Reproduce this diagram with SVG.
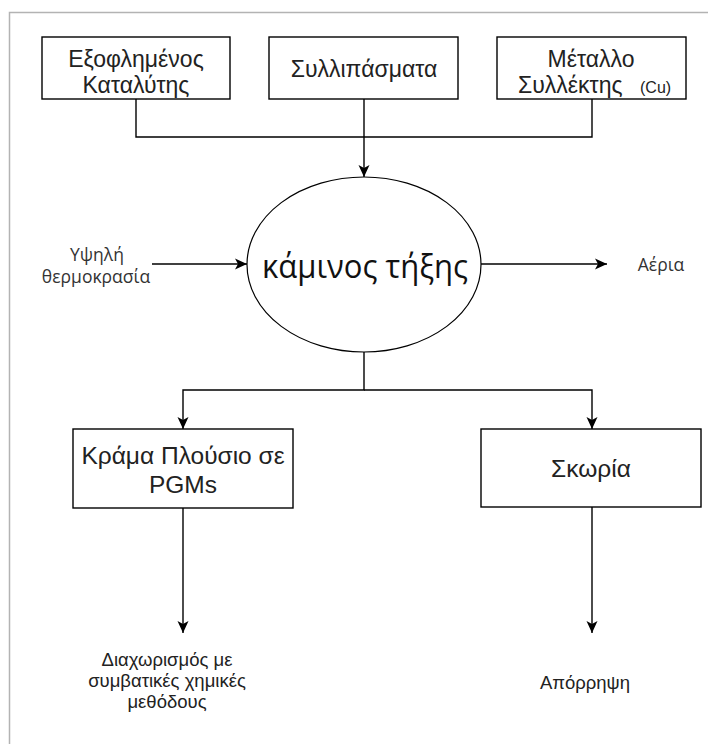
<svg xmlns="http://www.w3.org/2000/svg" width="708" height="744" viewBox="0 0 708 744">
<style>
.box{fill:#fff;stroke:#000;stroke-width:1.4}
.bt{font-family:"Liberation Sans",Arial,sans-serif;font-size:23px;fill:#222;text-anchor:middle}
.bb{font-family:"Liberation Sans",Arial,sans-serif;font-size:24.5px;fill:#222;text-anchor:middle}
.st{font-family:"Open Sans","Liberation Sans",sans-serif;font-size:17.5px;fill:#333;text-anchor:middle}
.lt{font-family:"Liberation Sans",Arial,sans-serif;font-size:18.5px;fill:#222;text-anchor:middle}
.con{fill:none;stroke:#000;stroke-width:1.4}
</style>
<defs>
<marker id="arr" markerUnits="userSpaceOnUse" markerWidth="12" markerHeight="12" refX="12" refY="6" orient="auto">
<path d="M0,0.5 L12,6 L0,11.5 L3,6 Z" fill="#000"/>
</marker>
</defs>
<rect x="9.5" y="12.5" width="800" height="800" fill="#fff" stroke="#b3b3b3" stroke-width="1.5"/>
<g id="connectors">
<path class="con" d="M136,99 V137 H592 V99"/>
<path class="con" d="M364,99 V177" marker-end="url(#arr)"/>
<path class="con" d="M152,264 H247" marker-end="url(#arr)"/>
<path class="con" d="M481,264 H607" marker-end="url(#arr)"/>
<path class="con" d="M364,352 V390 H183 V429" marker-end="url(#arr)"/>
<path class="con" d="M364,390 H592 V429" marker-end="url(#arr)"/>
<path class="con" d="M183,508 V633" marker-end="url(#arr)"/>
<path class="con" d="M592,507 V633" marker-end="url(#arr)"/>
</g>
<g id="box1">
<rect class="box" x="42" y="37" width="188" height="62"/>
<text class="bt" x="136" y="66.5">Εξοφλημένος</text>
<text class="bt" x="136" y="93">Καταλύτης</text>
</g>
<g id="box2">
<rect class="box" x="269" y="37" width="189" height="62"/>
<text class="bt" x="364" y="77">Συλλιπάσματα</text>
</g>
<g id="box3">
<rect class="box" x="497" y="37" width="189" height="62"/>
<text class="bt" x="591" y="66.5">Μέταλλο</text>
<text class="bt" x="518" y="93" style="text-anchor:start">Συλλέκτης</text>
<text x="640" y="93" font-family="Liberation Sans,Arial,sans-serif" font-size="16" fill="#222">(Cu)</text>
</g>
<g id="furnace">
<ellipse cx="364" cy="264.5" rx="117" ry="87.5" fill="#fff" stroke="#000" stroke-width="1.2"/>
<text x="365" y="278" font-family="Open Sans,Liberation Sans,sans-serif" font-size="33" fill="#111" text-anchor="middle" textLength="206" lengthAdjust="spacingAndGlyphs">κάμινος τήξης</text>
</g>
<g id="heat">
<text class="st" x="97" y="261">Υψηλή</text>
<text class="st" x="96" y="283">θερμοκρασία</text>
</g>
<g id="gases">
<text class="st" x="661" y="271">Αέρια</text>
</g>
<g id="alloy">
<rect class="box" x="73" y="429" width="220" height="79"/>
<text class="bb" x="183" y="464">Κράμα Πλούσιο σε</text>
<text class="bb" x="183" y="493">PGMs</text>
</g>
<g id="slag">
<rect class="box" x="481" y="429" width="220" height="78"/>
<text class="bb" x="591" y="477">Σκωρία</text>
</g>
<g id="separation">
<text class="lt" x="167" y="666">Διαχωρισμός με</text>
<text class="lt" x="167" y="687">συμβατικές χημικές</text>
<text class="lt" x="167" y="708">μεθόδους</text>
</g>
<g id="disposal">
<text class="lt" x="585" y="689">Απόρρηψη</text>
</g>
</svg>
